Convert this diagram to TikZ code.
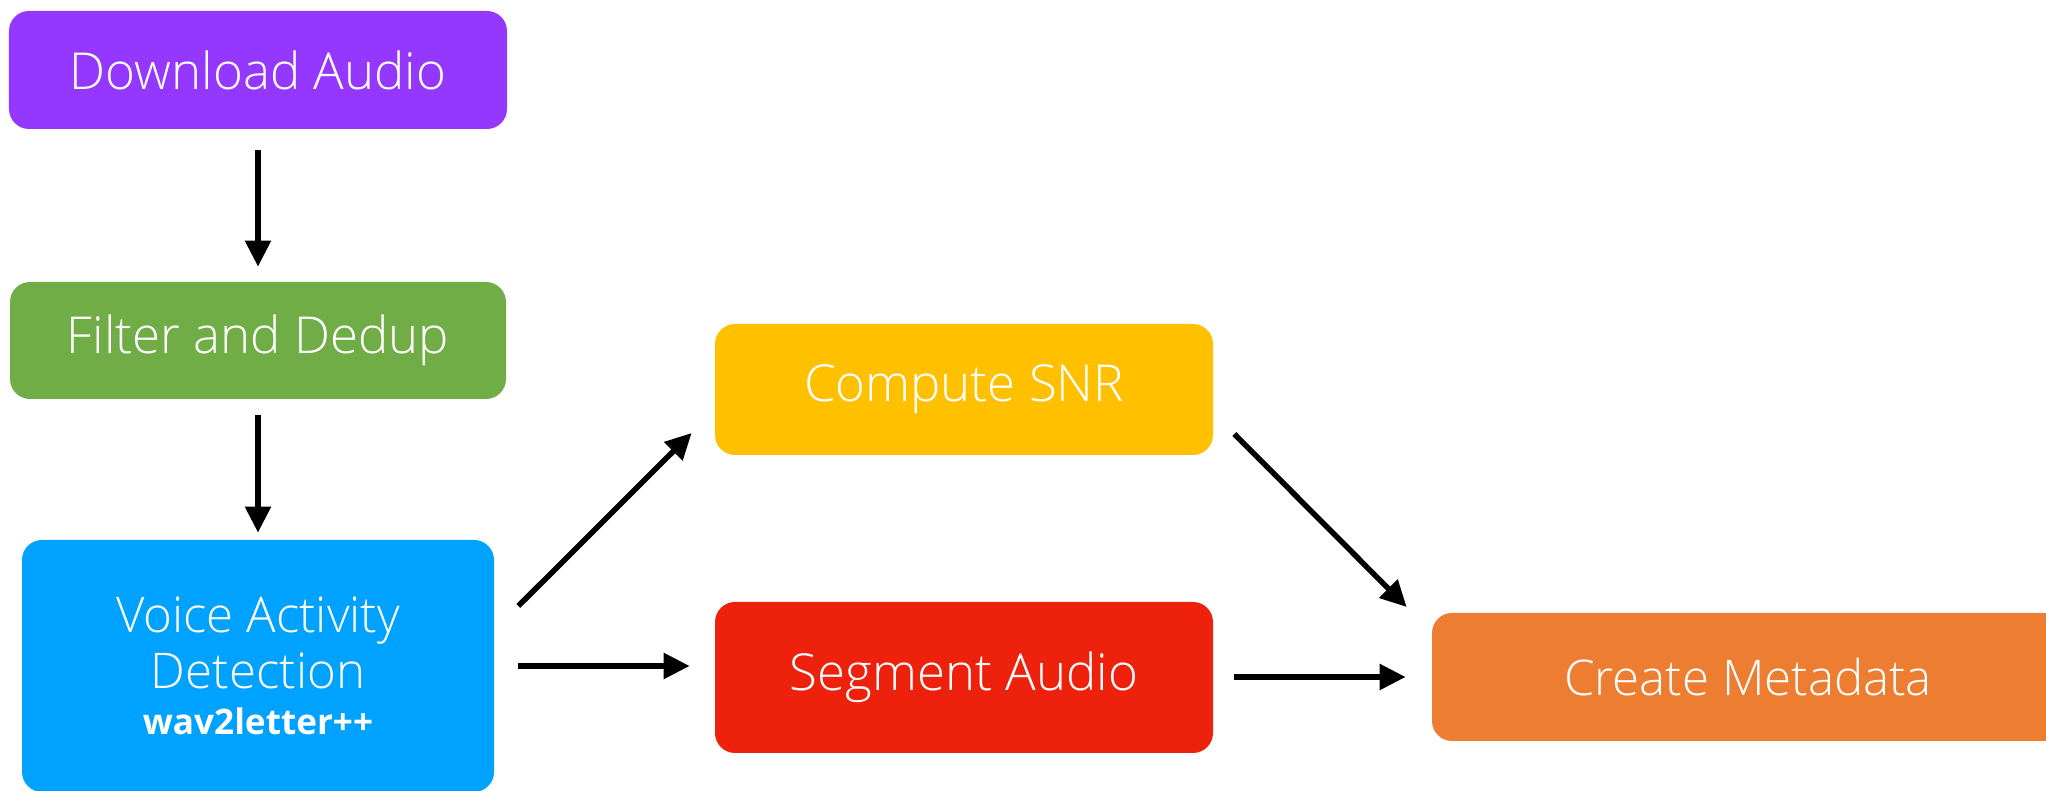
\documentclass[tikz,border=0pt]{standalone}
\usepackage{fontspec}
\setmainfont{Open Sans}[UprightFont=* Light, BoldFont=* Bold]
\usetikzlibrary{arrows.meta}

\definecolor{dlpurple}{HTML}{9437FF}
\definecolor{filtgreen}{HTML}{70AD47}
\definecolor{vadblue}{HTML}{00A2FF}
\definecolor{snryellow}{HTML}{FFC000}
\definecolor{segred}{HTML}{EE220C}
\definecolor{metaorange}{HTML}{ED7D31}

\tikzset{
  box/.style={rounded corners=0.4cm, text=white, inner sep=0pt, align=center,
    font=\fontsize{29}{35}\selectfont},
  arr/.style={line width=0.11cm, -{Triangle[length=0.52cm,width=0.5cm]}},
}

\begin{document}
\begin{tikzpicture}
\useasboundingbox (0,0) rectangle (40.92,15.82);

%les boites
\node[box, fill=dlpurple, minimum width=9.96cm, minimum height=2.36cm] (dl) at (5.16,14.42) {Download Audio};
\node[box, fill=filtgreen, minimum width=9.92cm, minimum height=2.34cm] (filt) at (5.16,9.01) {Filter and Dedup};
\node[box, fill=vadblue, minimum width=9.44cm, minimum height=5.04cm,
  font=\fontsize{28}{32}\selectfont] (vad) at (5.16,2.50)
  {Voice Activity\\Detection\\[-6pt]\textbf{\fontsize{20}{24}\selectfont wav2letter++}};
\node[box, fill=snryellow, minimum width=9.96cm, minimum height=2.62cm] (snr) at (19.28,8.03) {Compute SNR};
\node[box, fill=segred, minimum width=9.96cm, minimum height=3.02cm] (seg) at (19.28,2.27) {Segment Audio};
\node[box, fill=metaorange, minimum width=12.64cm, minimum height=2.56cm,
  font=\fontsize{28}{34}\selectfont] (meta) at (34.96,2.28) {Create Metadata};

%les fleches
\draw[arr, shorten <=0.42cm, shorten >=0.30cm] (dl) -- (filt);
\draw[arr, shorten <=0.32cm, shorten >=0.14cm] (filt) -- (vad);
\draw[arr] ([shift={(0.48,1.20)}]vad.east) -- ([shift={(-0.46,-0.87)}]snr.west);
\draw[arr] ([xshift=0.48cm]vad.east) -- ([xshift=-0.50cm]seg.west |- vad.east);
\draw[arr] ([shift={(0.42,-0.89)}]snr.east) -- ([shift={(-0.50,1.40)}]meta.west);
\draw[arr] ([xshift=0.42cm]seg.east |- meta.west) -- ([xshift=-0.52cm]meta.west);

\end{tikzpicture}
\end{document}
